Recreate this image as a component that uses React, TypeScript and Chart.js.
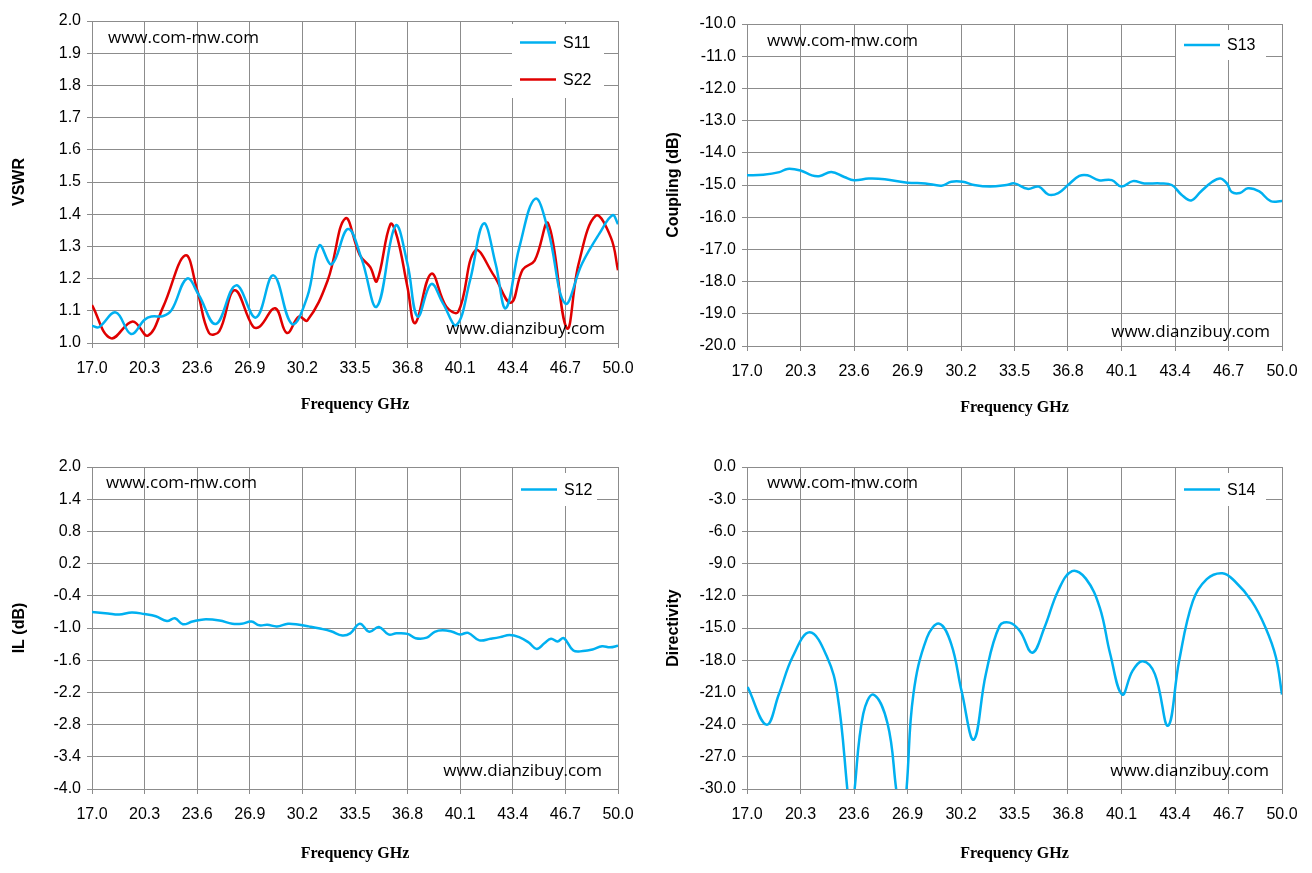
import React, { useEffect, useRef } from "react";
import { Chart, registerables } from "chart.js";
Chart.register(...registerables);

const xTicks = [17.0, 20.3, 23.6, 26.9, 30.2, 33.5, 36.8, 40.1, 43.4, 46.7, 50.0];

const s11Freq = [17.0, 17.43, 18.49, 19.45, 20.3, 20.72, 21.47, 22.0, 22.96, 23.7, 24.77, 26.04, 27.28, 28.38, 29.55, 30.51, 31.26, 32.04, 33.06, 33.91, 34.87, 36.04, 36.79, 37.43, 38.28, 39.02, 39.87, 40.72, 41.57, 42.32, 42.96, 43.81, 44.81, 45.62, 46.68, 47.74, 48.81, 49.66, 50.0];
const s11Vals = [1.054, 1.049, 1.095, 1.028, 1.072, 1.082, 1.084, 1.103, 1.2, 1.149, 1.059, 1.179, 1.079, 1.21, 1.059, 1.144, 1.303, 1.244, 1.354, 1.262, 1.113, 1.364, 1.246, 1.082, 1.183, 1.123, 1.056, 1.195, 1.371, 1.246, 1.108, 1.297, 1.448, 1.349, 1.123, 1.246, 1.338, 1.397, 1.369];

const s22Freq = [17.0, 18.17, 19.55, 20.51, 21.47, 22.85, 23.6, 24.34, 24.98, 25.94, 27.1, 27.53, 28.49, 29.23, 29.98, 30.51, 31.79, 32.89, 33.81, 34.45, 34.87, 35.72, 36.15, 36.79, 37.28, 38.28, 39.23, 39.98, 41.04, 42.21, 43.28, 44.02, 44.77, 45.62, 46.79, 47.53, 48.6, 49.55, 50.0];
const s22Vals = [1.118, 1.015, 1.067, 1.023, 1.113, 1.272, 1.164, 1.031, 1.036, 1.164, 1.051, 1.051, 1.108, 1.031, 1.082, 1.07, 1.195, 1.387, 1.272, 1.236, 1.192, 1.369, 1.328, 1.174, 1.062, 1.215, 1.113, 1.097, 1.287, 1.21, 1.125, 1.228, 1.256, 1.371, 1.046, 1.246, 1.395, 1.328, 1.226];

const s13Freq = [17, 18, 19, 19.5, 20.3, 21, 21.5, 22.2, 23, 23.6, 24.5, 25.5, 26.9, 28, 29, 29.6, 30.3, 31, 32, 33, 33.5, 34.3, 35, 35.6, 36.2, 36.8, 37.5, 38, 38.7, 39.5, 40.1, 40.8, 41.5, 42.5, 43.2, 43.8, 44.4, 45.0, 45.7, 46.2, 46.6, 46.9, 47.4, 47.9, 48.6, 49.3, 50];
const s13Vals = [-14.7, -14.68, -14.6, -14.5, -14.55, -14.7, -14.72, -14.6, -14.75, -14.85, -14.8, -14.82, -14.93, -14.95, -15.02, -14.9, -14.9, -15.0, -15.05, -15.0, -14.95, -15.12, -15.05, -15.3, -15.25, -15.0, -14.72, -14.7, -14.85, -14.85, -15.05, -14.88, -14.95, -14.95, -15.0, -15.3, -15.48, -15.2, -14.9, -14.8, -14.95, -15.22, -15.25, -15.1, -15.2, -15.5, -15.5];

const s12Freq = [17, 18, 18.7, 19.5, 20.3, 21, 21.7, 22.2, 22.7, 23.3, 24, 25, 25.8, 26.4, 27, 27.5, 28, 28.6, 29.3, 30, 30.6, 31.3, 32, 32.7, 33.2, 33.8, 34.4, 35, 35.6, 36.1, 36.8, 37.3, 38, 38.5, 39, 39.6, 40.1, 40.6, 41.3, 42, 42.6, 43.2, 43.8, 44.4, 44.9, 45.4, 45.8, 46.2, 46.6, 47.2, 47.8, 48.4, 49, 49.5, 50];
const s12Vals = [-0.7, -0.73, -0.75, -0.71, -0.74, -0.78, -0.87, -0.82, -0.93, -0.88, -0.84, -0.86, -0.92, -0.92, -0.88, -0.95, -0.94, -0.97, -0.92, -0.94, -0.97, -1.01, -1.06, -1.14, -1.1, -0.92, -1.07, -0.98, -1.12, -1.1, -1.11, -1.19, -1.18, -1.07, -1.04, -1.07, -1.12, -1.09, -1.23, -1.2, -1.17, -1.13, -1.17, -1.27, -1.39, -1.28, -1.2, -1.25, -1.19, -1.42, -1.43, -1.4, -1.34, -1.36, -1.33];

const s14Freq = [17.04, 18.2, 18.96, 19.81, 20.87, 21.94, 22.58, 23.2, 23.42, 23.64, 24.17, 24.8, 25.67, 26.2, 26.55, 26.84, 27.26, 28.1, 28.86, 29.6, 30.24, 30.99, 31.73, 32.58, 33.2, 33.84, 34.6, 35.35, 36.2, 37.05, 37.9, 38.76, 39.4, 40.14, 40.78, 41.42, 42.16, 42.97, 43.65, 44.5, 45.36, 46.32, 47.06, 48.13, 48.98, 49.62, 50];
const s14Vals = [-20.5, -24.0, -21.2, -17.7, -15.4, -17.7, -21.2, -30.2, -34, -30, -23.0, -21.2, -23.9, -30, -34, -30, -21.2, -15.9, -14.6, -16.5, -20.9, -25.4, -19.3, -14.8, -14.5, -15.3, -17.3, -14.95, -11.5, -9.7, -10.4, -13.1, -17.4, -21.2, -19.0, -18.1, -19.3, -24.1, -18.1, -12.5, -10.45, -9.9, -10.6, -12.5, -14.95, -17.7, -21.2];

const BLUE = "#00B0F0";
const RED = "#E00000";
const TICKFONT = { family: "Liberation Sans", size: 16 };

type Panel = {
  left: number; top: number; w: number; h: number;
  plot: [number, number, number, number];
  ymin: number; ymax: number; ystep: number; ytitle: string; ytitlePad: number; xtitleBottom: number;
  series: { label: string; fx: number[]; v: number[]; color: string }[];
  legend: [number, number, number, number];
  wm1: [number, number]; wm2: [number, number];
};

const panels: Panel[] = [
  { left: 0, top: 0, w: 656, h: 436, plot: [92, 21, 618, 343], ymin: 1, ymax: 2, ystep: 0.1, ytitle: "VSWR", ytitlePad: 10, xtitleBottom: 22,
    series: [{ label: "S11", fx: s11Freq, v: s11Vals, color: BLUE }, { label: "S22", fx: s22Freq, v: s22Vals, color: RED }],
    legend: [512, 24, 604, 98], wm1: [108, 38], wm2: [605, 329] },
  { left: 656, top: 0, w: 656, h: 436, plot: [91, 24, 626, 346], ymin: -20, ymax: -10, ystep: 1, ytitle: "Coupling (dB)", ytitlePad: 8, xtitleBottom: 19,
    series: [{ label: "S13", fx: s13Freq, v: s13Vals, color: BLUE }],
    legend: [520, 30, 610, 60], wm1: [111, 41], wm2: [614, 332] },
  { left: 0, top: 436, w: 656, h: 437, plot: [92, 31, 618, 353], ymin: -4, ymax: 2, ystep: 0.6, ytitle: "IL (dB)", ytitlePad: 10, xtitleBottom: 10,
    series: [{ label: "S12", fx: s12Freq, v: s12Vals, color: BLUE }],
    legend: [513, 37, 597, 70], wm1: [106, 47], wm2: [602, 335] },
  { left: 656, top: 436, w: 656, h: 437, plot: [91, 31, 626, 353], ymin: -30, ymax: 0, ystep: 3, ytitle: "Directivity", ytitlePad: 8, xtitleBottom: 10,
    series: [{ label: "S14", fx: s14Freq, v: s14Vals, color: BLUE }],
    legend: [520, 37, 610, 70], wm1: [111, 47], wm2: [613, 335] },
];

function PanelChart({ p }: { p: Panel }) {
  const ref = useRef<HTMLCanvasElement>(null);
  useEffect(() => {
    const [x0, y0, x1, y1] = p.plot;
    const deco = {
      id: "deco",
      afterDraw(chart: any) {
        const ctx = chart.ctx;
        ctx.save();
        ctx.font = "17px 'Open Sans'";
        ctx.fillStyle = "#000";
        ctx.textBaseline = "middle";
        ctx.textAlign = "left";
        ctx.fillText("www.com-mw.com", p.wm1[0], p.wm1[1]);
        ctx.textAlign = "right";
        ctx.fillText("www.dianzibuy.com", p.wm2[0], p.wm2[1]);
        const [lx0, ly0, lx1, ly1] = p.legend;
        ctx.fillStyle = "#fff";
        ctx.fillRect(lx0, ly0, lx1 - lx0, ly1 - ly0);
        const n = p.series.length;
        const rowH = (ly1 - ly0) / n;
        p.series.forEach((s, i) => {
          const cy = ly0 + rowH * (i + 0.5);
          ctx.strokeStyle = s.color;
          ctx.lineWidth = 2.5;
          ctx.beginPath();
          ctx.moveTo(lx0 + 8, cy);
          ctx.lineTo(lx0 + 44, cy);
          ctx.stroke();
          ctx.fillStyle = "#000";
          ctx.textAlign = "left";
          ctx.font = "16px 'Liberation Sans'";
          ctx.fillText(s.label, lx0 + 51, cy + 1);
        });
        ctx.restore();
      },
    };
    const chart = new Chart(ref.current!, {
      type: "line",
      data: {
        datasets: p.series.map((s) => ({
          label: s.label,
          data: s.fx.map((f, i) => ({ x: f, y: s.v[i] })),
          borderColor: s.color,
          borderWidth: 2.5,
          pointRadius: 0,
          tension: 0.4,
          fill: false,
        })),
      },
      options: {
        animation: false,
        responsive: false,
        maintainAspectRatio: false,
        layout: { padding: { left: 0, top: y0, right: p.w - x1, bottom: 0 } },
        plugins: { legend: { display: false }, tooltip: { enabled: false } },
        scales: {
          x: {
            type: "linear", min: 17, max: 50,
            afterBuildTicks: (s: any) => { s.ticks = xTicks.map((v) => ({ value: v })); },
            afterFit: (s: any) => { s.height = p.h - y1; },
            ticks: { font: TICKFONT, color: "#000", maxRotation: 0, padding: 11, callback: (v: any) => Number(v).toFixed(1) },
            grid: { color: "#8c8c8c", lineWidth: 1, tickLength: 5 },
            border: { color: "#8c8c8c" },
            title: { display: true, text: "Frequency GHz", color: "#000", font: { family: "Liberation Serif", size: 16, weight: "bold" }, padding: { top: 0, bottom: p.xtitleBottom } },
          },
          y: {
            min: p.ymin, max: p.ymax,
            afterFit: (s: any) => { s.width = x0; },
            afterBuildTicks: (s: any) => {
              const t = [];
              const n = Math.round((p.ymax - p.ymin) / p.ystep);
              for (let i = 0; i <= n; i++) t.push({ value: p.ymin + i * p.ystep });
              s.ticks = t;
            },
            ticks: { font: TICKFONT, color: "#000", padding: 6, callback: (v: any) => (Math.abs(v) < 1e-9 ? 0 : Number(v)).toFixed(1) },
            grid: { color: "#8c8c8c", lineWidth: 1, tickLength: 5 },
            border: { color: "#8c8c8c" },
            title: { display: true, text: p.ytitle, color: "#000", font: { family: "Liberation Sans", size: 16, weight: "bold" }, padding: { top: p.ytitlePad, bottom: 0 } },
          },
        },
      },
      plugins: [deco],
    } as any);
    return () => chart.destroy();
  }, []);
  return (
    <div style={{ position: "absolute", left: p.left, top: p.top, width: p.w, height: p.h }}>
      <canvas ref={ref} width={p.w} height={p.h} style={{ width: p.w, height: p.h }} />
    </div>
  );
}

export default function App() {
  return (
    <div style={{ position: "fixed", left: 0, top: 0, width: 1312, height: 873, background: "#fff" }}>
      {panels.map((p, i) => <PanelChart key={i} p={p} />)}
    </div>
  );
}
